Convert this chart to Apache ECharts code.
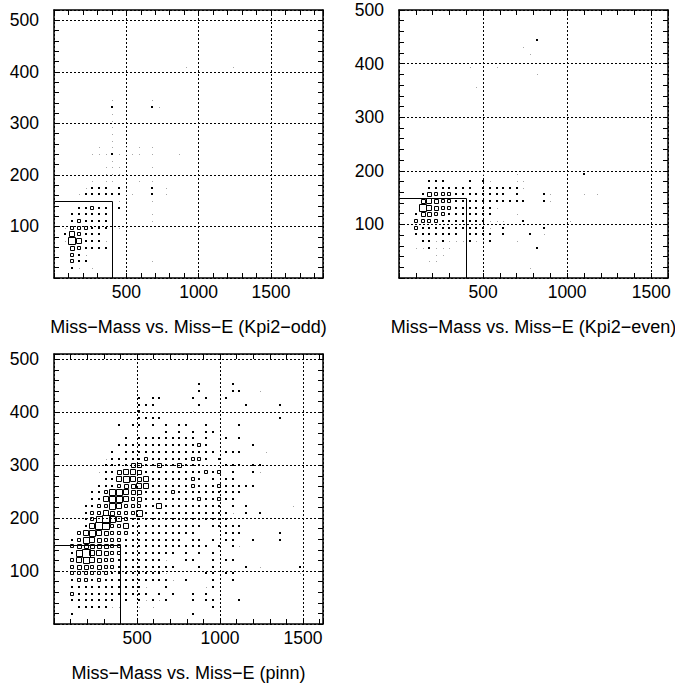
<!DOCTYPE html>
<html>
<head>
<meta charset="utf-8">
<script src="https://cdn.jsdelivr.net/npm/echarts@6/dist/echarts.min.js"></script>
<style>
  html, body { margin: 0; padding: 0; background: #fff; }
  #chart { width: 675px; height: 686px; }
</style>
</head>
<body>
<div id="chart"></div>
<script>
// 2D histograms, Miss-Mass (y) vs Miss-E (x)
// each string = one y bin (bottom row first), each char = one x bin
// '.' empty, digits = relative cell content (box size)
const oddBins = { x0: 10, dx: 46.25, y0: 0, dy: 13 }
const oddRows = [
  '',
  '..21.1',
  '..322.........1',
  '..321',
  '..432222',
  '.1752221',
  '.253222',
  '.133322211',
  '..232222......1',
  '..222222......1',
  '...2232212',
  '.........11...1',
  '...122222211..2.1',
  '....1222.21...2.1',
  '.....1.11...1.1',
  '.......111',
  '.......111....1',
  '........1',
  '.....11121111.1...1',
  '......1.1.1.1.1',
  '........1',
  '........1',
  '........1',
  '........1',
  '........1',
  '........2.....21',
  '........1.....1',
  '', '', '', '',
  '...................1......1'
]

const evenBins = { x0: 0, dx: 40, y0: 0, dy: 12.5 }
const evenRows = [
  '',
  '...................1',
  '....11',
  '.....11',
  '..112111............2',
  '...22121112112...1',
  '..2222222.2222.2...2.1',
  '..322222222221.2.....2',
  '..33332222222111..2......1',
  '..244332222222...1',
  '...754332222221',
  '...4543322222222222..21',
  '...2433322222222.2...21....1.1',
  '....2222222.2222221',
  '....222...2.21...11',
  '............1....1.........2',
  '', '', '', '', '', '', '', '', '', '', '', '',
  '...........1',
  '',
  '....................1',
  '..........1...1',
  '',
  '...................1',
  '..................1',
  '....................2'
]

const pinnBins = { x0: 10, dx: 40.25, y0: 0, dy: 12.75 }
const pinnRows = [
  '',
  '..2.................2',
  '...2222211..1.1........2',
  '..2222222.2.21212...2.22...2',
  '..322222222222.2.2..2.2',
  '..222222222221..2.....12',
  '..2332322222222221.2...2..2',
  '..333333222222221.....22.22.........1',
  '..3443433222222222...2.2....2.1.....2',
  '..356543322222221..22..2.22',
  '..2685543322222222.2.2.2',
  '..344444332222222222222.2.21',
  '..23654333222222222.22.2.22..2...2',
  '...356543332222222222....222.....2',
  '....257733522222222222.22222',
  '....2368653222222222222222',
  '....23354333622222222222221.2.2',
  '....223365333225222222222.2.2......1',
  '.....2256653422222222322322',
  '.....22366544222232222222222',
  '......222344552222223222322222',
  '.......225654522222232.2.22',
  '......1224554222222222323.2..21',
  '.......222244224224222...222.22',
  '.......1222223222222332.2',
  '........2.22222222222222.222...1',
  '.........22222222222232......2',
  '..........2.222222222.2..2.2',
  '................2.2.2.22',
  '.........2.22.2.2.22..2....2',
  '............2222.................2',
  '............2.......1',
  '............222......2......2....2',
  '............2.22....2.2..2',
  '.....................2....22..1',
  '.....................2....2'
]

// signal box cut: Miss-E < 400, Miss-Mass < 150
const cutE = 400
const cutMass = 150

const xLabels = [500, 1000, 1500]
const yLabels = [100, 200, 300, 400, 500]

const panels = [
  { title: 'Miss−Mass vs. Miss−E (Kpi2−odd)', rows: oddRows, bins: oddBins, xMax: 1860, yMax: 520,
    grid: { left: 54, top: 10, width: 269, height: 268 } },
  { title: 'Miss−Mass vs. Miss−E (Kpi2−even)', rows: evenRows, bins: evenBins, xMax: 1600, yMax: 500,
    grid: { left: 399, top: 10, width: 269, height: 268 } },
  { title: 'Miss−Mass vs. Miss−E (pinn)', rows: pinnRows, bins: pinnBins, xMax: 1620, yMax: 510,
    grid: { left: 54, top: 354, width: 269, height: 270 } }
]

const FONT = 'Liberation Sans'

function cellsFrom(rows, b) {
  const out = []
  rows.forEach((row, j) => {
    for (let i = 0; i < row.length; i++) {
      if (row[i] === '.') continue
      out.push([b.x0 + b.dx * (i + 0.5), b.y0 + b.dy * (j + 0.5), +row[i]])
    }
  })
  return out
}

function renderBox(params, api) {
  const v = api.value(2)
  const p = api.coord([api.value(0), api.value(1)])
  const cx = Math.round(p[0]), cy = Math.round(p[1])
  if (v <= 1) {
    return { type: 'rect', shape: { x: cx, y: cy, width: 1, height: 1 }, style: { fill: '#a8a8a8' } }
  }
  if (v === 2) {
    return { type: 'rect', shape: { x: cx - 1, y: cy - 1, width: 2, height: 2 }, style: { fill: '#000' } }
  }
  const s = v + 1
  const h = Math.floor(s / 2)
  return {
    type: 'rect',
    shape: { x: cx - h + 0.5, y: cy - h + 0.5, width: s - 1, height: s - 1 },
    style: { fill: 'none', stroke: '#000', lineWidth: 1 }
  }
}

// crisp outline of the signal box
function renderCut(params, api) {
  const a = api.coord([0, cutMass])
  const c = api.coord([cutE, cutMass])
  const b = api.coord([cutE, 0])
  const r = v => Math.round(v) + 0.5
  return {
    type: 'polyline',
    shape: { points: [[r(a[0]), r(a[1])], [r(c[0]), r(c[1])], [r(b[0]), r(b[1])]] },
    style: { fill: 'none', stroke: '#000', lineWidth: 1 }
  }
}

const grids = [], xAxes = [], yAxes = [], series = [], texts = []

panels.forEach((pn, k) => {
  grids.push(pn.grid)
  const frame = { show: true, onZero: false, lineStyle: { color: '#000', width: 1.5 } }
  const ticks = { show: true, inside: true, length: 5, lineStyle: { color: '#000', width: 1 } }
  const dotted = { show: true, lineStyle: { color: '#000', width: 1, type: [2, 2] } }
  // main axes: labels + dotted grid
  xAxes.push({
    gridIndex: k, type: 'value', position: 'bottom', min: 0, max: pn.xMax, interval: 500,
    axisLine: frame, axisTick: { show: false }, splitLine: dotted,
    axisLabel: { margin: 5, color: '#000', fontFamily: FONT, fontSize: 17.5,
      formatter: v => xLabels.includes(v) ? String(v) : '' }
  })
  // bottom / top ticks
  xAxes.push({
    gridIndex: k, type: 'value', position: 'bottom', min: 0, max: pn.xMax, interval: 100,
    axisLine: { show: false }, axisTick: ticks, axisLabel: { show: false }, splitLine: { show: false }
  })
  xAxes.push({
    gridIndex: k, type: 'value', position: 'top', min: 0, max: pn.xMax, interval: 100,
    axisLine: frame, axisTick: ticks, axisLabel: { show: false }, splitLine: { show: false }
  })
  yAxes.push({
    gridIndex: k, type: 'value', position: 'left', min: 0, max: pn.yMax, interval: 100,
    axisLine: frame, axisTick: { show: false }, splitLine: dotted,
    axisLabel: { margin: 15, color: '#000', fontFamily: FONT, fontSize: 17.5,
      formatter: v => yLabels.includes(v) ? String(v) : '' }
  })
  yAxes.push({
    gridIndex: k, type: 'value', position: 'left', min: 0, max: pn.yMax, interval: 20,
    axisLine: { show: false }, axisTick: ticks, axisLabel: { show: false }, splitLine: { show: false }
  })
  yAxes.push({
    gridIndex: k, type: 'value', position: 'right', min: 0, max: pn.yMax, interval: 20,
    axisLine: frame, axisTick: ticks, axisLabel: { show: false }, splitLine: { show: false }
  })

  series.push({
    type: 'custom', xAxisIndex: 3 * k, yAxisIndex: 3 * k,
    renderItem: renderBox, data: cellsFrom(pn.rows, pn.bins), silent: true
  })
  series.push({
    type: 'custom', xAxisIndex: 3 * k, yAxisIndex: 3 * k,
    renderItem: renderCut, data: [[cutE, cutMass]], silent: true
  })

  texts.push({
    type: 'text',
    x: pn.grid.left + pn.grid.width / 2,
    y: pn.grid.top + pn.grid.height + 49,
    style: { text: pn.title, font: '18px "' + FONT + '"', fill: '#000',
      textAlign: 'center', textVerticalAlign: 'middle' }
  })
})

const chart = echarts.init(document.getElementById('chart'), null, { renderer: 'svg' })
chart.setOption({
  animation: false,
  backgroundColor: '#fff',
  grid: grids,
  xAxis: xAxes,
  yAxis: yAxes,
  series: series,
  graphic: texts
})
</script>
</body>
</html>
